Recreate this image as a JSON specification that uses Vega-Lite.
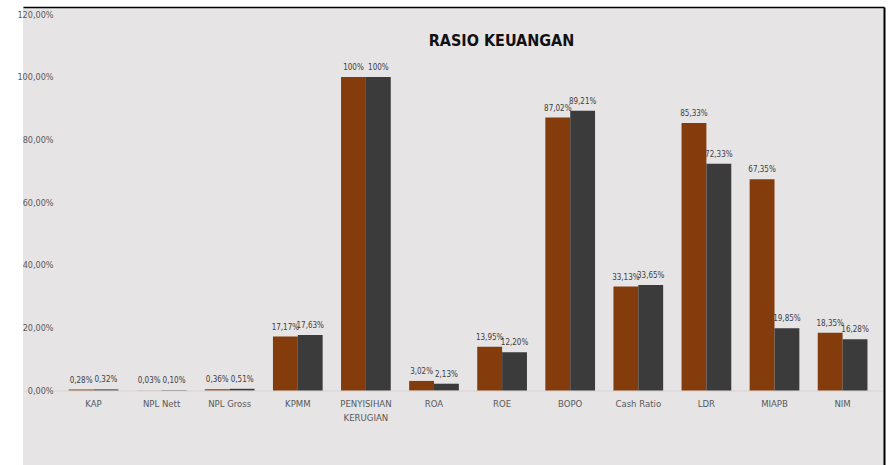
{
  "$schema": "https://vega.github.io/schema/vega-lite/v6.json",
  "width": 861,
  "height": 458,
  "autosize": {"type": "none"},
  "padding": {"left": 23, "top": 7, "right": 8, "bottom": 0},
  "background": "white",
  "config": {
    "view": {"fill": "#E6E4E5", "stroke": null},
    "font": "Liberation Sans Narrow, DejaVu Sans Condensed, sans-serif"
  },
  "title": {
    "text": "RASIO KEUANGAN",
    "fontSize": 16,
    "fontWeight": "bold",
    "color": "#111111",
    "anchor": "middle",
    "frame": "group",
    "baseline": "alphabetic",
    "offset": -55,
    "dx": 48
  },
  "data": {
    "values": [
      {"rasio": "KAP", "seri": "Seri 1", "nilai": 0.28, "label": "0,28%"},
      {"rasio": "KAP", "seri": "Seri 2", "nilai": 0.32, "label": "0,32%"},
      {"rasio": "NPL Nett", "seri": "Seri 1", "nilai": 0.03, "label": "0,03%"},
      {"rasio": "NPL Nett", "seri": "Seri 2", "nilai": 0.10, "label": "0,10%"},
      {"rasio": "NPL Gross", "seri": "Seri 1", "nilai": 0.36, "label": "0,36%"},
      {"rasio": "NPL Gross", "seri": "Seri 2", "nilai": 0.51, "label": "0,51%"},
      {"rasio": "KPMM", "seri": "Seri 1", "nilai": 17.17, "label": "17,17%"},
      {"rasio": "KPMM", "seri": "Seri 2", "nilai": 17.63, "label": "17,63%"},
      {"rasio": "PENYISIHAN KERUGIAN", "seri": "Seri 1", "nilai": 100, "label": "100%"},
      {"rasio": "PENYISIHAN KERUGIAN", "seri": "Seri 2", "nilai": 100, "label": "100%"},
      {"rasio": "ROA", "seri": "Seri 1", "nilai": 3.02, "label": "3,02%"},
      {"rasio": "ROA", "seri": "Seri 2", "nilai": 2.13, "label": "2,13%"},
      {"rasio": "ROE", "seri": "Seri 1", "nilai": 13.95, "label": "13,95%"},
      {"rasio": "ROE", "seri": "Seri 2", "nilai": 12.20, "label": "12,20%"},
      {"rasio": "BOPO", "seri": "Seri 1", "nilai": 87.02, "label": "87,02%"},
      {"rasio": "BOPO", "seri": "Seri 2", "nilai": 89.21, "label": "89,21%"},
      {"rasio": "Cash Ratio", "seri": "Seri 1", "nilai": 33.13, "label": "33,13%"},
      {"rasio": "Cash Ratio", "seri": "Seri 2", "nilai": 33.65, "label": "33,65%"},
      {"rasio": "LDR", "seri": "Seri 1", "nilai": 85.33, "label": "85,33%"},
      {"rasio": "LDR", "seri": "Seri 2", "nilai": 72.33, "label": "72,33%"},
      {"rasio": "MIAPB", "seri": "Seri 1", "nilai": 67.35, "label": "67,35%"},
      {"rasio": "MIAPB", "seri": "Seri 2", "nilai": 19.85, "label": "19,85%"},
      {"rasio": "NIM", "seri": "Seri 1", "nilai": 18.35, "label": "18,35%"},
      {"rasio": "NIM", "seri": "Seri 2", "nilai": 16.28, "label": "16,28%"}
    ]
  },
  "layer": [
    {
      "mark": {"type": "bar"},
      "encoding": {
        "x": {
          "field": "rasio", "type": "nominal", "sort": null,
          "scale": {"paddingInner": 0.27, "paddingOuter": 0.4566, "align": 0.734},
          "axis": {
            "orient": "bottom", "offset": -74.5, "title": null,
            "labelAngle": 0, "ticks": false, "labelPadding": 8,
            "labelFontSize": 9.5, "labelColor": "#595959", "labelLineHeight": 14,
            "labelExpr": "datum.value == 'PENYISIHAN KERUGIAN' ? ['PENYISIHAN', 'KERUGIAN'] : datum.value",
            "domainColor": "#D6D4D5", "domainWidth": 1
          }
        },
        "xOffset": {"field": "seri", "type": "nominal", "scale": {"paddingInner": 0, "paddingOuter": 0}},
        "y": {
          "field": "nilai", "type": "quantitative",
          "scale": {"domain": [-23.8, 122.3], "nice": false, "zero": false},
          "axis": {
            "orient": "left", "title": null, "grid": false, "domain": false,
            "ticks": false, "tickSize": 0, "values": [0, 20, 40, 60, 80, 100, 120],
            "labelAlign": "right", "labelPadding": -30, "labelFontSize": 9,
            "labelColor": "#595959",
            "labelExpr": "replace(format(datum.value, '.2f'), '.', ',') + '%'"
          }
        },
        "color": {
          "field": "seri", "type": "nominal",
          "scale": {"domain": ["Seri 1", "Seri 2"], "range": ["#843C0C", "#3B3B3B"]},
          "legend": null
        }
      }
    },
    {
      "mark": {"type": "text", "baseline": "bottom", "dy": -5, "fontSize": 8, "color": "#404040"},
      "encoding": {
        "x": {"field": "rasio", "type": "nominal", "sort": null, "axis": null},
        "xOffset": {"field": "seri", "type": "nominal"},
        "y": {"field": "nilai", "type": "quantitative", "axis": null},
        "text": {"field": "label", "type": "nominal"}
      }
    },
    {
      "mark": {"type": "bar", "opacity": 0},
      "encoding": {
        "x": {
          "field": "rasio", "type": "nominal", "sort": null,
          "axis": {"orient": "top", "title": null, "labels": false, "ticks": false,
                   "domainColor": "#000000", "domainWidth": 1.5}
        },
        "xOffset": {"field": "seri", "type": "nominal"},
        "y": {
          "field": "nilai", "type": "quantitative",
          "axis": {"orient": "right", "title": null, "labels": false, "ticks": false,
                   "grid": false, "domainColor": "#000000", "domainWidth": 2}
        }
      }
    }
  ],
  "resolve": {"axis": {"x": "independent", "y": "independent"}}
}
